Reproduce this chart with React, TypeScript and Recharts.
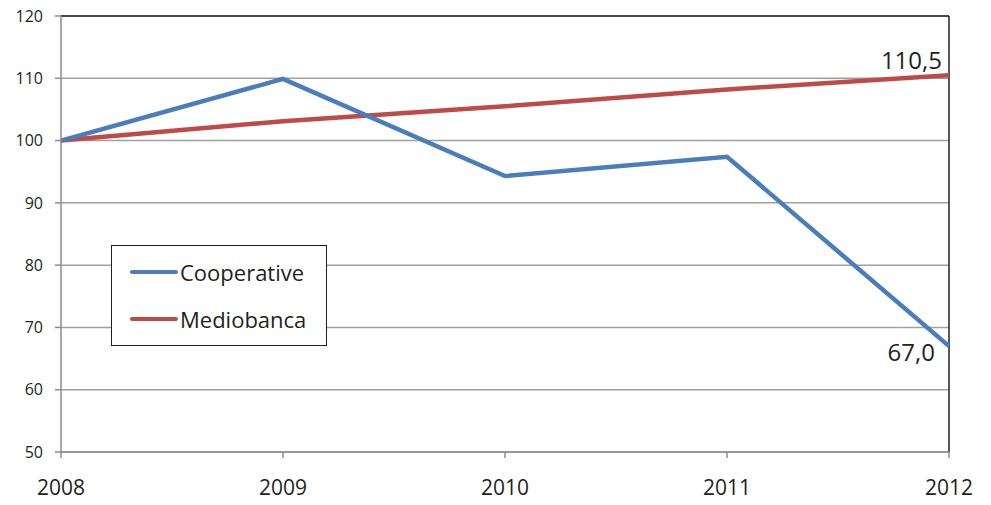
import {
  CartesianGrid,
  LabelList,
  Legend,
  Line,
  LineChart,
  ReferenceLine,
  XAxis,
  YAxis,
} from "recharts";

const years = ["2008", "2009", "2010", "2011", "2012"];
const cooperative = [100, 109.9, 94.3, 97.4, 67.0];
const mediobanca = [100, 103.1, 105.5, 108.2, 110.5];
const yTicks = [50, 60, 70, 80, 90, 100, 110, 120];

const chartData = years.map((year, i) => ({
  year,
  cooperative: cooperative[i],
  mediobanca: mediobanca[i],
}));

const FONT = "'Open Sans', 'Noto Sans', sans-serif";
const BLUE = "#4a7ebb";
const RED = "#be4b48";

const legendItems = [
  { name: "Cooperative", color: BLUE },
  { name: "Mediobanca", color: RED },
];

function LegendBox() {
  return (
    <div
      style={{
        width: 216,
        height: 101,
        border: "1px solid #231f20",
        background: "#fff",
        fontFamily: FONT,
        fontSize: 22,
        color: "#231f20",
        display: "flex",
        flexDirection: "column",
        justifyContent: "space-around",
        padding: "3px 0",
        boxSizing: "border-box",
      }}
    >
      {legendItems.map((item) => (
        <div key={item.name} style={{ display: "flex", alignItems: "center", paddingLeft: 18 }}>
          <span
            style={{
              display: "inline-block",
              width: 48,
              height: 4,
              borderRadius: 2,
              background: item.color,
              marginRight: 2,
            }}
          />
          <span>{item.name}</span>
        </div>
      ))}
    </div>
  );
}

// only the last point of each series carries a value label
function lastLabel(position: "above" | "below") {
  return (props: any) => {
    const { x, y, value, index } = props;
    if (index !== years.length - 1) return null;
    const text = Number(value).toFixed(1).replace(".", ",");
    return (
      <text
        x={x - (position === "above" ? 7 : 14)}
        y={position === "above" ? y - 6 : y + 15}
        textAnchor="end"
        fontFamily={FONT}
        fontSize={24}
        fill="#231f20"
      >
        {text}
      </text>
    );
  };
}

export default function App() {
  return (
    <div style={{ position: "absolute", left: 0, top: 0, background: "#fff" }}>
      <LineChart
        width={991}
        height={505}
        data={chartData}
        margin={{ top: 16, right: 42, bottom: 0, left: 0 }}
      >
        <CartesianGrid vertical={false} stroke="#a0a0a0" strokeWidth={1.5} />
        <XAxis
          dataKey="year"
          height={53}
          stroke="#8c8c8c"
          strokeWidth={1.5}
          tickSize={6}
          tickMargin={22}
          tick={{ fill: "#231f20", fontSize: 21, fontFamily: FONT }}
          interval={0}
        />
        <YAxis
          domain={[50, 120]}
          ticks={yTicks}
          width={61}
          stroke="#8c8c8c"
          strokeWidth={1.5}
          tickSize={6}
          tickMargin={12}
          tick={{ fill: "#231f20", fontSize: 16, fontFamily: FONT }}
        />
        <ReferenceLine y={120} stroke="#231f20" strokeWidth={1.5} />
        <ReferenceLine x="2012" stroke="#231f20" strokeWidth={1.5} />
        <Legend
          layout="vertical"
          align="center"
          verticalAlign="middle"
          content={() => <LegendBox />}
          wrapperStyle={{ left: 111, top: 245, width: 216, height: 101 }}
        />
        <Line
          dataKey="mediobanca"
          name="Mediobanca"
          stroke={RED}
          strokeWidth={4.5}
          dot={false}
          isAnimationActive={false}
        >
          <LabelList dataKey="mediobanca" content={lastLabel("above")} />
        </Line>
        <Line
          dataKey="cooperative"
          name="Cooperative"
          stroke={BLUE}
          strokeWidth={4.5}
          dot={false}
          isAnimationActive={false}
        >
          <LabelList dataKey="cooperative" content={lastLabel("below")} />
        </Line>
      </LineChart>
    </div>
  );
}
